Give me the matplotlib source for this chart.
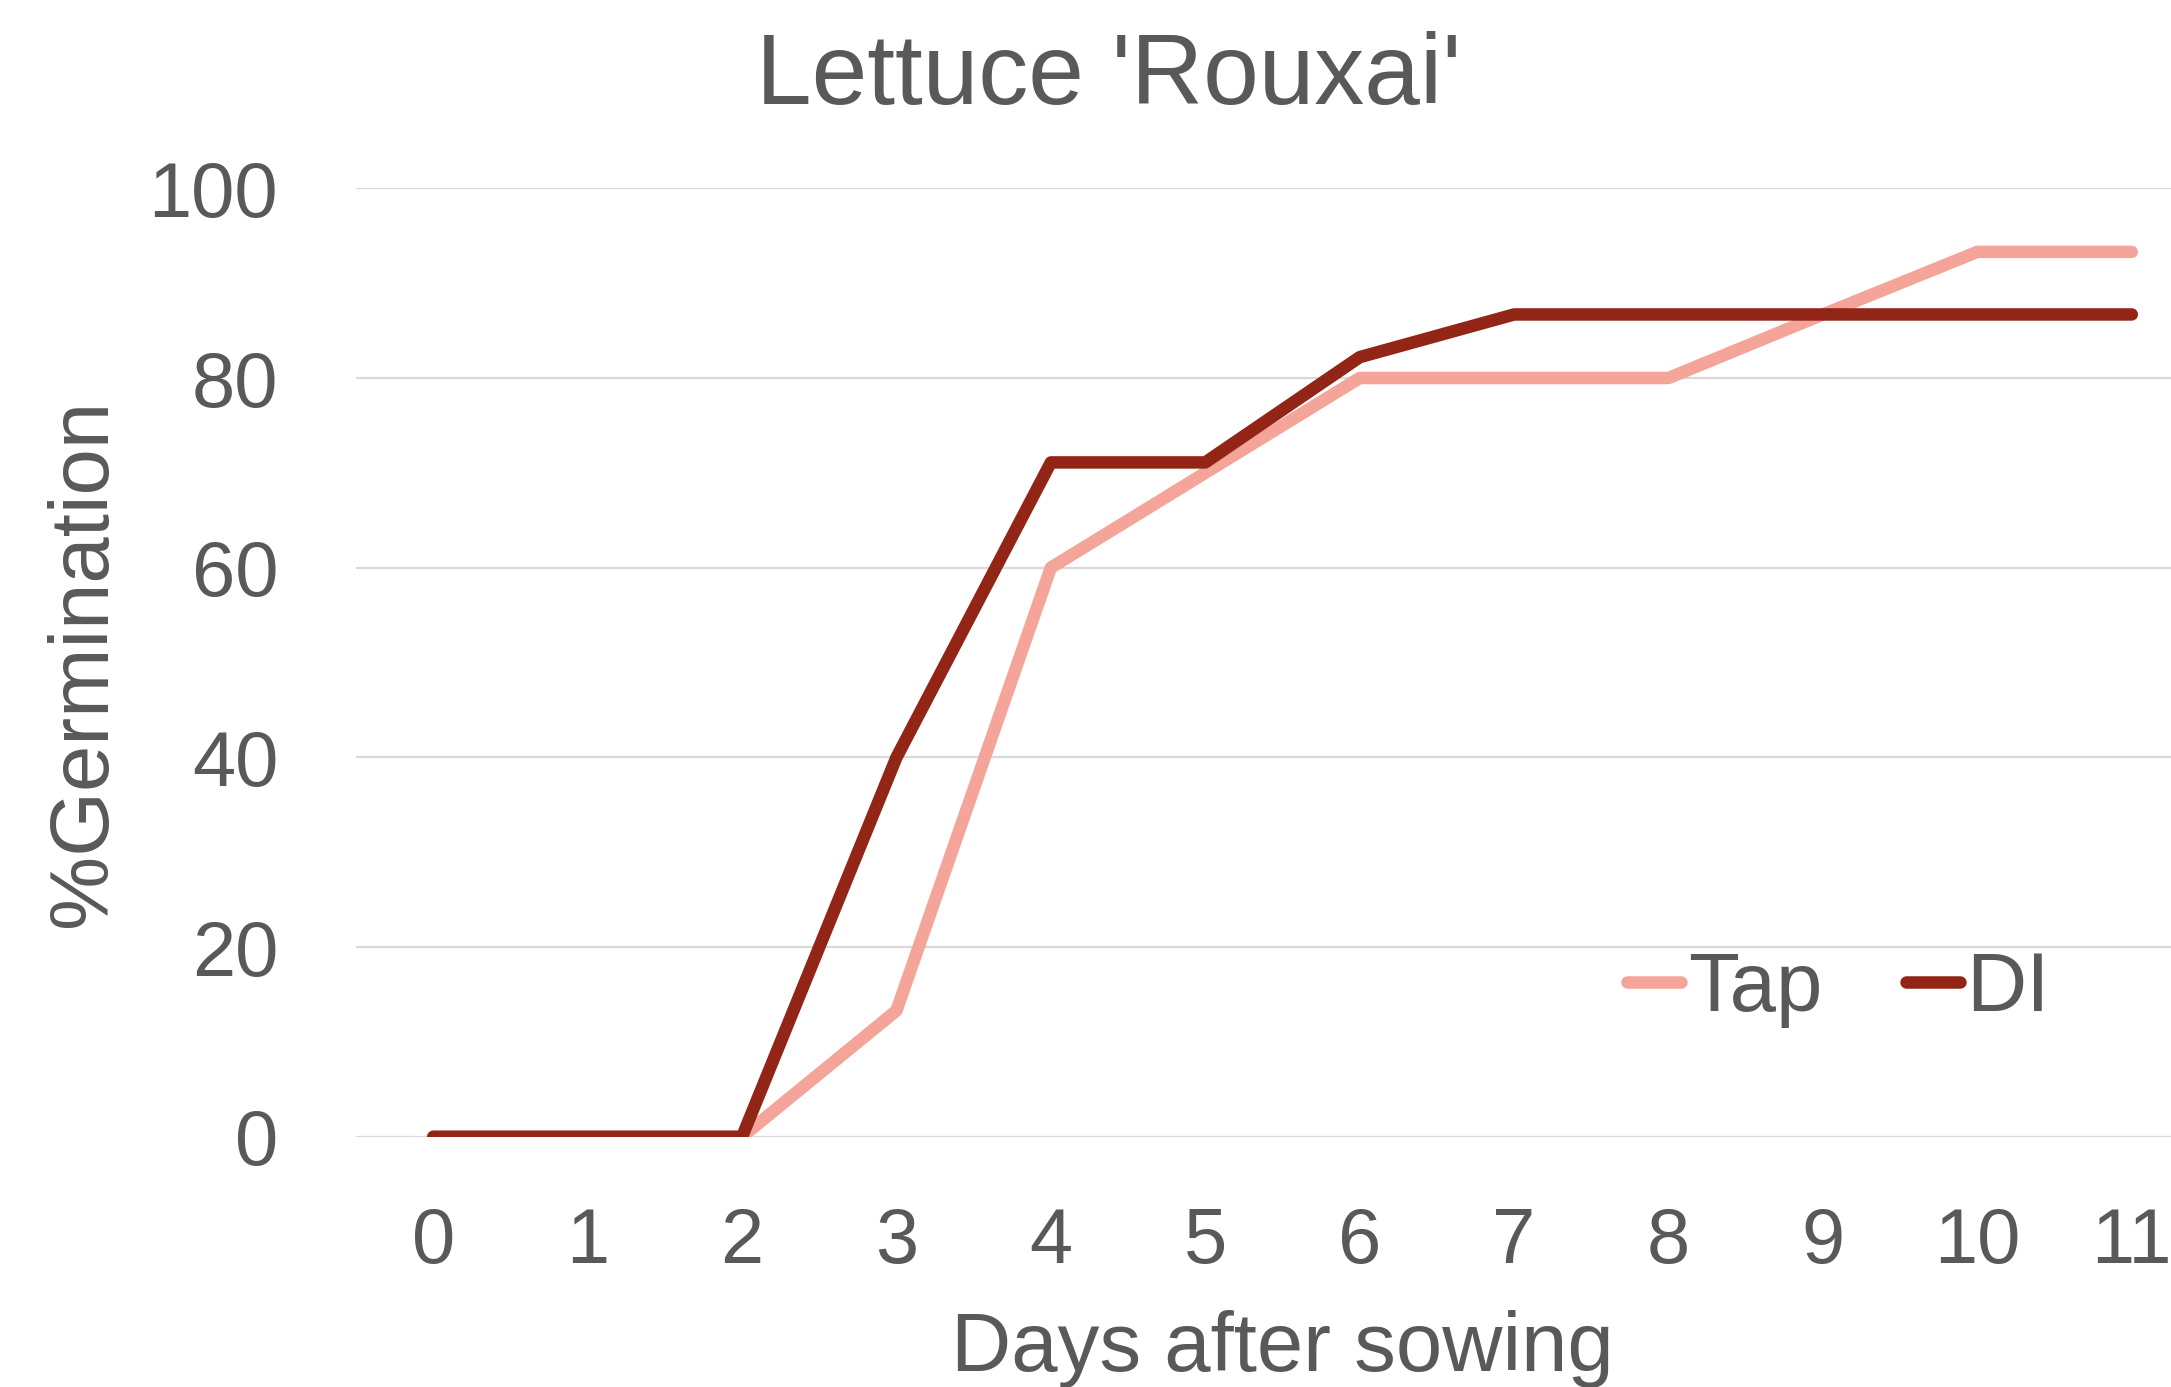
import matplotlib
matplotlib.use("Agg")
import matplotlib.pyplot as plt

days = list(range(12))
day_labels = [str(d) for d in days]
tap = [0, 0, 0, 13.3, 60, 70, 80, 80, 80, 86.7, 93.3, 93.3]
di = [0, 0, 0, 40, 71.1, 71.1, 82.2, 86.7, 86.7, 86.7, 86.7, 86.7]
y_ticks = [0, 20, 40, 60, 80, 100]

TXT = "#595959"
plt.rcParams['font.family'] = ['Liberation Sans', 'DejaVu Sans']

W, H = 2171, 1387
fig = plt.figure(figsize=(W / 100, H / 100), dpi=100)
left, right = 356, 2209
top, bottom = 188.3, 1136.8
ax = fig.add_axes([left / W, 1 - bottom / H, (right - left) / W, (bottom - top) / H])

ax.plot(days, tap, color="#F4A499", lw=9, solid_capstyle='round', solid_joinstyle='round', label="Tap", zorder=3)
ax.plot(days, di, color="#922515", lw=9, solid_capstyle='round', solid_joinstyle='round', label="DI", zorder=4)

ax.set_xlim(-0.5, 11.5)
ax.set_ylim(0, 100)
ax.set_yticks(y_ticks)
ax.set_xticks(days)
ax.set_xticklabels(day_labels)
ax.grid(axis='y', color="#D9D9D9", lw=1.6, zorder=0)
ax.set_axisbelow(True)
for s in ax.spines.values():
    s.set_visible(False)
ax.tick_params(axis='y', length=0, pad=56, labelsize=56, labelcolor=TXT)
ax.tick_params(axis='x', length=0, pad=50, labelsize=56, labelcolor=TXT)

ax.set_xlabel("Days after sowing", fontsize=60, color=TXT)
ax.xaxis.set_label_coords(0.5, (1137 - 1371) / (bottom - top))
ax.xaxis.label.set_va('baseline')

ax.set_ylabel("%Germination", fontsize=60, color=TXT)
ax.yaxis.set_label_coords((84 - left) / (right - left), 0.5)
ax.yaxis.label.set_va('center')

fig.text(1109 / W, 1 - 104 / H, "Lettuce 'Rouxai'", fontsize=72, color=TXT, ha='center', va='baseline')

leg = ax.legend(ncol=2, loc='center left', bbox_to_anchor=(1627 / W, 1 - 989 / H),
                bbox_transform=fig.transFigure, frameon=False, handlelength=0.65,
                handletextpad=0.08, columnspacing=1.0, borderpad=0, borderaxespad=0,
                fontsize=60)
for t in leg.get_texts():
    t.set_color(TXT)

fig.savefig("out.png", dpi=100)
